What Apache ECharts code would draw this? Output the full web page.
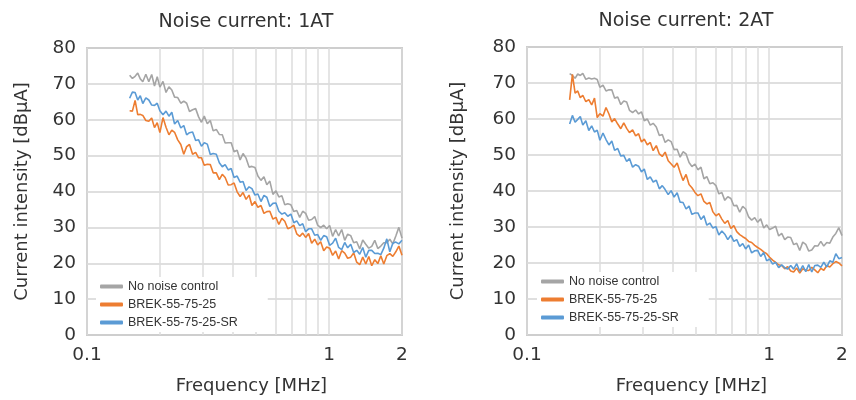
<!DOCTYPE html>
<html>
<head>
<meta charset="utf-8">
<script src="https://cdn.jsdelivr.net/npm/echarts@6/dist/echarts.min.js"></script>
<style>
html,body{margin:0;padding:0;background:#fff;}
#c{width:856px;height:400px;}
</style>
</head>
<body>
<div id="c"></div>
<script>
// Frequency samples [MHz]
var freqMHz = [0.150,0.154,0.158,0.162,0.166,0.170,0.175,0.180,0.185,0.190,0.195,0.200,0.206,0.212,0.218,0.224,0.230,0.237,0.244,0.251,0.258,0.265,0.273,0.281,0.289,0.297,0.305,0.314,0.323,0.332,0.342,0.352,0.362,0.372,0.383,0.394,0.405,0.417,0.429,0.441,0.454,0.467,0.480,0.494,0.508,0.523,0.538,0.553,0.569,0.586,0.603,0.620,0.638,0.656,0.675,0.695,0.715,0.735,0.756,0.778,0.800,0.823,0.847,0.872,0.897,0.923,0.950,0.977,1.005,1.034,1.064,1.095,1.127,1.160,1.193,1.228,1.263,1.300,1.338,1.377,1.417,1.458,1.500,1.544,1.589,1.635,1.682,1.731,1.781,1.833,1.886,1.941,2.000];

// Noise current 1AT [dBuA]
var noControl1AT = [72.4,71.5,72.1,73.0,71.4,70.6,72.7,70.6,72.6,69.4,72.0,69.1,70.7,67.6,69.2,68.3,66.3,66.2,64.6,65.2,64.6,62.3,62.8,63.1,60.8,59.3,61.0,58.9,59.8,56.9,57.3,55.9,55.8,53.5,53.6,53.6,51.1,51.5,48.8,50.6,49.3,46.8,47.0,46.7,44.3,43.1,44.1,41.9,42.9,39.2,40.2,38.5,38.8,36.3,36.6,36.3,34.4,34.7,32.8,34.5,33.9,32.0,32.2,33.0,30.6,29.9,30.6,29.6,30.5,27.5,29.4,27.6,29.4,26.4,28.1,27.7,25.7,26.0,24.0,26.5,25.3,24.2,24.7,26.4,24.1,24.8,25.7,25.7,26.7,25.4,27.6,30.0,27.0];
var brek1AT = [62.5,62.4,65.4,61.4,61.5,61.2,59.8,59.6,60.5,57.8,59.2,56.4,60.6,57.9,55.8,57.1,56.5,54.4,53.1,50.4,52.5,53.1,50.4,50.9,49.4,49.4,47.3,47.6,47.5,45.2,45.2,43.3,44.8,43.9,41.8,41.9,42.4,39.9,38.6,39.7,37.8,39.0,36.1,37.2,35.6,36.1,33.9,34.4,34.5,32.3,32.8,30.8,32.5,31.7,29.6,30.0,30.6,28.2,27.5,28.4,27.2,28.3,25.6,26.7,25.1,26.0,23.5,24.5,24.2,22.2,23.4,21.2,23.5,22.8,21.4,21.7,22.9,20.3,19.6,21.7,19.8,21.9,19.3,21.0,19.9,22.1,19.8,22.1,22.7,21.9,23.2,24.8,22.2];
var brekSR1AT = [66.0,67.7,67.6,65.5,66.7,64.5,66.1,65.5,64.1,64.0,64.6,62.5,61.4,62.4,61.0,62.1,58.8,59.8,57.7,58.4,55.8,56.4,56.6,54.2,54.4,52.6,53.6,53.2,50.3,50.6,50.4,48.0,46.9,47.5,46.0,46.4,43.9,44.3,42.6,42.8,40.3,41.3,40.8,39.0,39.3,37.2,38.9,38.4,35.8,36.7,36.8,34.5,33.7,34.1,33.1,33.7,31.3,31.8,30.5,31.0,28.8,29.6,29.6,27.8,28.0,26.4,27.7,27.4,25.0,25.6,27.0,24.4,23.8,25.8,24.3,25.3,23.0,23.6,22.5,24.4,21.7,23.6,23.6,22.7,22.8,22.4,24.2,26.8,23.2,25.6,25.9,25.4,26.4];

// Noise current 2AT [dBuA]
var noControl2AT = [72.6,72.1,71.3,72.5,72.1,72.7,71.0,71.4,71.1,71.3,71.0,68.8,69.4,67.8,68.1,68.1,65.8,66.1,64.0,65.0,64.7,62.4,61.8,62.5,61.4,62.0,59.5,60.0,58.3,58.8,57.8,55.4,55.7,53.5,54.2,53.7,51.5,51.6,49.4,50.9,50.3,47.9,46.8,47.5,45.9,46.6,43.4,44.0,42.0,42.3,41.5,39.2,39.6,37.4,38.4,37.9,35.9,36.0,34.1,35.7,35.0,32.8,31.9,32.6,31.3,32.3,29.7,30.6,29.3,29.7,30.2,27.5,28.2,26.5,27.2,27.1,25.1,25.5,23.5,25.8,25.2,23.3,23.6,24.8,24.7,26.0,24.7,25.7,25.5,27.2,28.2,29.8,27.6];
var brek2AT = [65.3,72.4,67.2,67.8,65.9,66.6,64.8,65.4,63.9,65.8,60.4,61.5,60.8,63.2,61.4,59.2,60.1,58.6,57.3,58.9,57.4,56.2,57.0,55.3,55.9,53.6,54.4,52.8,53.5,51.2,52.6,50.3,49.6,50.8,48.4,47.5,46.6,47.8,45.2,42.9,44.6,41.8,40.9,39.6,38.7,39.2,37.1,36.4,36.8,34.2,33.1,33.7,32.2,31.0,31.8,29.6,30.4,28.7,27.9,27.3,26.8,26.0,25.7,24.9,24.3,23.8,23.1,22.6,21.6,20.8,20.2,19.5,19.3,18.4,19.0,17.8,17.5,18.6,17.2,18.4,18.0,17.9,18.8,18.1,17.3,18.5,18.0,19.3,18.9,19.8,20.4,20.0,19.2];
var brekSR2AT = [58.6,61.0,59.1,59.9,60.7,58.3,59.5,56.8,58.1,56.4,56.9,54.1,56.1,54.3,52.8,53.9,51.3,51.8,49.7,49.9,48.2,49.0,46.6,47.3,46.9,45.3,46.1,43.2,43.9,42.5,43.0,40.6,41.5,40.4,39.0,40.1,38.3,39.5,36.9,36.8,35.0,35.8,33.5,33.9,33.9,32.1,33.1,30.5,31.1,29.7,30.1,27.8,28.9,28.0,26.5,27.7,26.0,26.5,24.6,25.4,23.9,25.0,22.8,23.4,23.5,21.8,22.9,20.6,21.1,19.7,20.2,18.7,19.5,18.7,18.3,19.3,18.3,19.8,17.7,19.3,17.6,19.6,17.5,19.3,19.4,18.8,20.2,18.9,20.6,20.2,22.6,21.2,21.5];

var seriesNames = ['No noise control','BREK-55-75-25','BREK-55-75-25-SR'];
var seriesColors = ['#a5a5a5','#ed7d31','#5b9bd5'];
var titles = ['Noise current: 1AT','Noise current: 2AT'];
var xLabelValues = [0.1, 1, 2];
var xGridValues = [0.1,0.2,0.3,0.4,0.5,0.6,0.7,0.8,0.9,1,2];

var chart = echarts.init(document.getElementById('c'));
var FONT = 'DejaVu Sans';
function pairs(arr){ return freqMHz.map(function(f,i){ return [f, arr[i]]; }); }

var grids = [
  {left:87, right:454, top:48, bottom:62},
  {left:527, right:14, top:47, bottom:64}
];
var xAxes = [], yAxes = [], series = [];
[0,1].forEach(function(g){
  xAxes.push({
    type:'log', logBase:10, min:0.1, max:2, gridIndex:g,
    name:'Frequency [MHz]', nameLocation:'middle', nameGap:42,
    nameTextStyle:{fontFamily:FONT, fontSize:18, color:'#333', padding:[0,0,0,14]},
    axisLine:{show:false}, axisTick:{show:false, customValues:xGridValues},
    axisLabel:{customValues:xLabelValues, fontFamily:FONT, fontSize:18.5, color:'#333', margin:11,
      formatter:function(v){ return String(Math.round(v*10)/10); }},
    splitLine:{show:true, lineStyle:{color:'#dcdcdc', width:1.5}},
    minorSplitLine:{show:false}
  });
  yAxes.push({
    type:'value', min:0, max:80, interval:10, gridIndex:g,
    name:'Current intensity [dBμA]', nameLocation:'middle', nameGap:g===0?56:60,
    nameTextStyle:{fontFamily:FONT, fontSize:18, color:'#333'},
    axisLine:{show:false}, axisTick:{show:false},
    axisLabel:{fontFamily:FONT, fontSize:18.5, color:'#333', margin:11},
    splitLine:{show:true, lineStyle:{color:'#d4d4d4', width:1.5}}
  });
});
var data1 = [noControl1AT, brek1AT, brekSR1AT];
var data2 = [noControl2AT, brek2AT, brekSR2AT];
[data1, data2].forEach(function(d, g){
  d.forEach(function(arr, k){
    series.push({
      type:'line', name:seriesNames[k], xAxisIndex:g, yAxisIndex:g,
      data:pairs(arr), showSymbol:false, symbol:'none',
      lineStyle:{color:seriesColors[k], width:1.6}, itemStyle:{color:seriesColors[k]},
      animation:false, z:3+k
    });
  });
});

chart.setOption({
  animation:false,
  color:seriesColors,
  title:[
    {text:titles[0], left:241, top:8, textAlign:'center', textStyle:{fontFamily:FONT, fontSize:19, fontWeight:'normal', color:'#333'}},
    {text:titles[1], left:681, top:7, textAlign:'center', textStyle:{fontFamily:FONT, fontSize:19, fontWeight:'normal', color:'#333'}}
  ],
  grid:grids.map(function(g){ return Object.assign({show:true, borderColor:'#a6a6a6', borderWidth:1.5, backgroundColor:'transparent'}, g); }),
  xAxis:xAxes, yAxis:yAxes,
  legend:[
    {left:96, top:277, orient:'vertical', data:seriesNames, itemWidth:23, itemHeight:4, itemGap:5,
     icon:'roundRect', backgroundColor:'#fff', padding:[3,30,3,4], selectedMode:false,
     textStyle:{fontFamily:'Liberation Sans', fontSize:12.5, color:'#333'}},
    {left:537, top:272, orient:'vertical', data:seriesNames, itemWidth:23, itemHeight:4, itemGap:5,
     icon:'roundRect', backgroundColor:'#fff', padding:[3,30,3,4], selectedMode:false,
     textStyle:{fontFamily:'Liberation Sans', fontSize:12.5, color:'#333'}}
  ],
  series:series
});
</script>
</body>
</html>
